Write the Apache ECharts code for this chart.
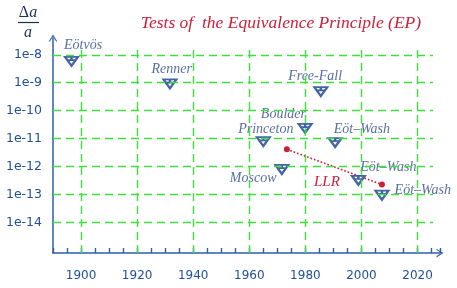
<!DOCTYPE html>
<html><head><meta charset="utf-8">
<script src="https://cdn.jsdelivr.net/npm/echarts@6/dist/echarts.min.js"></script>
<style>html,body{margin:0;padding:0;background:#fff}#c{width:457px;height:288px}</style>
</head><body><div id="c"></div>
<script>
// ---- data ----
const experiments = ['Eötvös', 'Renner', 'Free-Fall', 'Boulder', 'Princeton', 'Eöt–Wash', 'Moscow', 'Eöt–Wash', 'Eöt–Wash'];
const years       = [1896.6, 1931.7, 1985.5, 1979.9, 1965.0, 1990.6, 1971.6, 1998.9, 2007.3];
const limits      = [5.8e-9, 9.1e-10, 4.8e-10, 2.3e-11, 7.8e-12, 7.2e-12, 7.8e-13, 3.2e-13, 9.3e-14];
const llrYears    = [1973.4, 2007.3];
const llrLimits   = [4.1e-12, 2.24e-13];
const xTickYears  = [1900, 1920, 1940, 1960, 1980, 2000, 2020];
const yTickLabels = ['1e-8', '1e-9', '1e-10', '1e-11', '1e-12', '1e-13', '1e-14'];

// ---- layout / styles ----
const labelOffsets = [[11.6,-15.7],[1.7,-15],[-5.7,-15],[-21.7,-14.3],[2.5,-12.4],[26.7,-13.4],[-28.7,9],[30,-12.7],[40.8,-5]];
const X_MIN = 1890, X_MAX = 2028, X_GRID_END = 2025.5;
const Y_MIN = -15.1, Y_MAX = -7.4, Y_GRID_TOP = -7.7;
const blue = '#2f5ea8', labelBlue = '#2f4a88', green = '#3ee03e', red = '#cc1f3a';
const chevron = 'path://M0,8 L5,0 L10,8 L8.5,8 L5,2.4 L1.5,8 Z';
const tri = 'path://M0,0 L14,0 L7,10 Z M2.4,3.6 L11.6,3.6 M7,0 L7,3.6';

const yDecades = yTickLabels.map(s => Number(s.slice(2)));
const gridStyle = { color: green, width: 1.4, type: [8, 5] };
const gridLines = [];
xTickYears.forEach(x => gridLines.push([{ coord: [x, Y_MIN] }, { coord: [x, Y_GRID_TOP] }]));
yDecades.forEach(y => gridLines.push([{ coord: [X_MIN, y] }, { coord: [X_GRID_END, y] }]));

const pts = experiments.map((n, i) => ({
  name: n,
  value: [years[i], Math.log10(limits[i])],
  label: { offset: labelOffsets[i] }
}));
const llr = llrYears.map((x, i) => ({ value: [x, Math.log10(llrLimits[i])] }));
llr[0].label = { show: true, formatter: 'LLR', position: 'inside', offset: [40, 32.4],
  color: red, fontFamily: 'Liberation Serif', fontStyle: 'italic', fontSize: 15 };

const chart = echarts.init(document.getElementById('c'), null, { renderer: 'canvas' });
chart.setOption({
  animation: false,
  backgroundColor: '#fff',
  grid: { left: 53, right: 17, top: 38, bottom: 35, containLabel: false },
  xAxis: {
    type: 'value', min: X_MIN, max: X_MAX, interval: 5,
    axisLine: { show: true, lineStyle: { color: blue, width: 1.5 }, symbol: ['none', chevron], symbolSize: [9, 7] },
    axisTick: { show: true, inside: true, length: 5, lineStyle: { color: blue, width: 1.4 } },
    splitLine: { show: false },
    axisLabel: {
      color: '#1f4e9a', fontFamily: 'DejaVu Sans', fontSize: 12, margin: 17,
      formatter: v => xTickYears.indexOf(v) >= 0 ? String(v) : ''
    }
  },
  yAxis: {
    type: 'value', min: Y_MIN, max: Y_MAX, minInterval: 1, maxInterval: 1, splitNumber: 8,
    axisLine: { show: true, lineStyle: { color: blue, width: 1.5 }, symbol: ['none', chevron], symbolSize: [9, 7] },
    axisTick: { show: false },
    splitLine: { show: false },
    axisLabel: {
      color: '#1f4e9a', fontFamily: 'DejaVu Sans', fontSize: 12.5, margin: 11,
      formatter: v => { const i = yDecades.indexOf(Math.round(v)); return (i >= 0 && Math.abs(v - Math.round(v)) < 1e-6) ? yTickLabels[i] : ''; }
    }
  },
  graphic: [
    { type: 'text', x: 281, y: 23, z: 10,
      style: { text: 'Tests of  the Equivalence Principle (EP)', fill: red, font: 'italic 17.5px "Liberation Serif"', align: 'center', verticalAlign: 'middle' } },
    { type: 'text', x: 28, y: 13, z: 10,
      style: { text: '{d|Δ}{i|a}', align: 'center', verticalAlign: 'middle',
        rich: { d: { font: '16px "Liberation Serif"', fill: '#1d2f5a' }, i: { font: 'italic 16px "Liberation Serif"', fill: '#1d2f5a' } } } },
    { type: 'line', z: 10, shape: { x1: 18, y1: 22.5, x2: 39, y2: 22.5 }, style: { stroke: '#1d2f5a', lineWidth: 1.2 } },
    { type: 'text', x: 28, y: 33, z: 10,
      style: { text: 'a', fill: '#1d2f5a', font: 'italic 16px "Liberation Serif"', align: 'center', verticalAlign: 'middle' } }
  ],
  series: [
    { type: 'line', data: [], z: 1, silent: true,
      markLine: { silent: true, symbol: ['none', 'none'], label: { show: false }, lineStyle: gridStyle, animation: false, data: gridLines } },
    { type: 'line', data: llr, z: 3, symbol: 'circle', symbolSize: 6, showSymbol: true,
      itemStyle: { color: red }, lineStyle: { color: red, width: 1.6, type: [1.6, 2] } },
    { type: 'scatter', data: pts, z: 4, symbol: tri, symbolSize: [13, 9],
      itemStyle: { color: '#f4f7fc', borderColor: '#163f8c', borderWidth: 2.1 },
      label: { show: true, position: 'inside', formatter: '{b}', color: labelBlue,
        fontFamily: 'Liberation Serif', fontStyle: 'italic', fontSize: 14 } }
  ]
});
</script></body></html>
